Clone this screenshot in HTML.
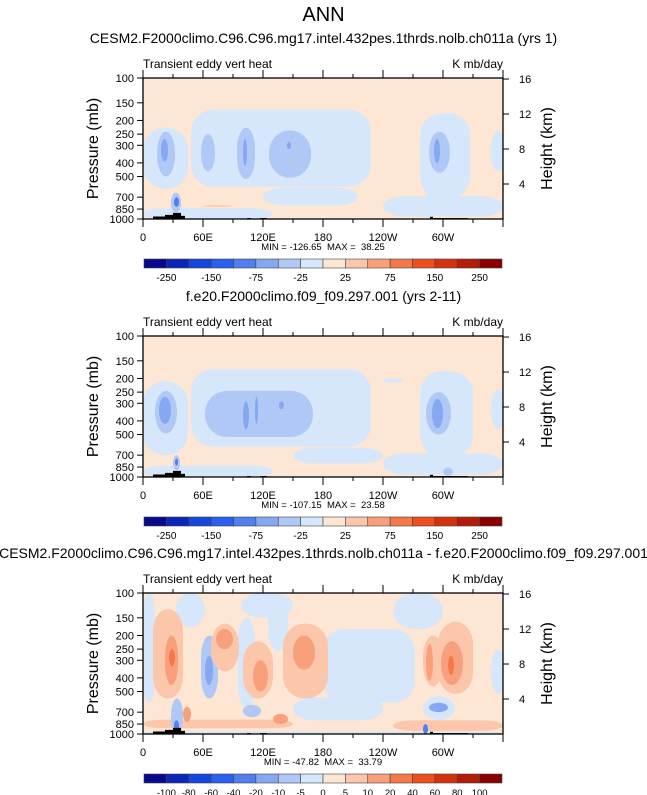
<!DOCTYPE html>
<html><head><meta charset="utf-8"><style>
body{margin:0;background:#fff;}
svg{display:block;font-family:"Liberation Sans",Arial,sans-serif;}
text{white-space:pre;}
</style></head><body>
<svg id="chart" width="647" height="795" viewBox="0 0 647 795" xmlns="http://www.w3.org/2000/svg">
<text x="323.5" y="21" font-size="20" text-anchor="middle">ANN</text>
</svg>
<script>
// ---- data ----
const colors16 = ["#08088c","#0a26b6","#1446e0","#2a60f2","#5080ee","#86a8f2","#b0c8f6","#d6e6fb","#fde6d4","#fbc6aa","#f8a07c","#f47848","#f04e1e","#d4320f","#b21c08","#8a0000"];
const labelsAbs = ["-250","","-150","","-75","","-25","","25","","75","","150","","250"];
const labelsDiff = ["-100","-80","-60","-40","-20","-10","-5","0","5","10","20","40","60","80","100"];
const pTicks = [100,150,200,250,300,400,500,700,850,1000];
const hTicks = [4,8,12,16];
const lonTicks = [0,60,120,180,240,300];
const lonLabels = ["0","60E","120E","180","120W","60W"];
const subtitles = ["CESM2.F2000climo.C96.C96.mg17.intel.432pes.1thrds.nolb.ch011a (yrs 1)","f.e20.F2000climo.f09_f09.297.001 (yrs 2-11)","CESM2.F2000climo.C96.C96.mg17.intel.432pes.1thrds.nolb.ch011a - f.e20.F2000climo.f09_f09.297.001"];
const minmax = ["MIN = -126.65  MAX =  38.25","MIN = -107.15  MAX =  23.58","MIN = -47.82  MAX =  33.79"];
// blobs: [lon0, lon1, pTop, pBottom, colorLevel]
const blobs1 = [
 [0,45,225,610,7],[48,228,168,590,7],[277,327,178,720,7],[348,362,235,460,7],
 [0,130,840,1000,7],[240,360,690,960,7],[120,215,600,800,7],[282,290,650,1000,7],
 [14,32,240,500,6],[58,72,250,460,6],[94,112,225,520,6],[126,168,235,510,6],[286,307,240,470,6],
 [18,25,270,390,5],[100,104,270,420,5],[144,148,285,320,5],[291,297,270,400,5],
 [28,38,650,900,6],[31,36,700,820,4],[60,90,800,820,9]
];
const blobs2 = [
 [0,45,210,700,7],[48,228,172,610,7],[277,330,178,720,7],[348,362,240,460,7],
 [0,130,830,1000,7],[240,360,680,960,7],[150,240,620,800,7],[282,290,650,1000,7],[240,260,200,215,7],
 [12,34,245,490,6],[62,170,245,520,6],[283,308,250,500,6],
 [16,28,270,420,5],[100,106,290,460,5],[112,115,270,420,5],[136,141,290,330,5],[289,300,280,450,5],
 [30,37,700,900,6],[32,35,740,830,4],[300,310,860,980,6]
];
const blobs3 = [
 [0,12,100,600,7],[33,62,100,175,7],[98,150,100,150,7],[250,300,100,180,7],[95,112,150,650,7],
 [125,145,110,260,7],[180,272,180,600,7],[150,240,550,800,7],[280,312,540,800,7],[348,362,250,520,7],[0,360,960,1000,7],
 [10,40,130,560,9],[22,35,200,450,10],[26,32,250,330,11],
 [58,75,200,560,6],[62,70,280,450,5],
 [68,96,165,360,9],[73,90,180,250,10],
 [100,130,220,560,9],[110,125,300,500,10],
 [140,185,165,560,9],[150,172,200,350,10],
 [280,300,200,460,9],[283,290,230,420,10],[295,330,160,520,9],[298,320,220,450,10],[305,311,280,380,11],
 [0,150,790,910,9],[250,360,800,950,9],[40,48,640,820,10],[130,145,720,850,10],
 [286,305,600,700,5],[100,118,620,760,6],[28,40,560,1000,6],[31,36,800,960,4],[280,285,850,1000,4]
];
const topo = [[10,22,960],[22,30,935],[30,38,905],[38,42,950],[104,108,985],[117,124,985],[287,290,965],[290,325,985]];
const panelTops = [78,336,593];
const blobSets = [blobs1,blobs2,blobs3];

// ---- layout ----
const svg = document.getElementById('chart');
const NS = "http://www.w3.org/2000/svg";
const X0 = 143, X1 = 503, PH = 141;
function mk(tag, attrs, parent){const e=document.createElementNS(NS,tag);for(const k in attrs)e.setAttribute(k,attrs[k]);(parent||svg).appendChild(e);return e;}
function xScale(lon){return X0 + (lon/360)*(X1-X0);}
function yScale(p, top){return top + PH*Math.log10(p/100);}
function hToP(h){return 1000*Math.exp(-h/7);}

for(let k=0;k<3;k++){
  const top = panelTops[k];
  const g = mk('g',{});
  
  
  const st = mk('text',{x:323.5,y:top-35,'font-size':14,'text-anchor':'middle'},g);
  st.textContent = subtitles[k];
  
  
  const l = mk('text',{x:X0,y:top-10,'font-size':12},g); l.textContent='Transient eddy vert heat';
  
  
  const u = mk('text',{x:X1,y:top-10,'font-size':12,'text-anchor':'end'},g); u.textContent='K mb/day';
  
  
  const cp = mk('clipPath',{id:'clip'+k},g);
  mk('rect',{x:X0,y:top,width:X1-X0,height:PH},cp);
  const field = mk('g',{'clip-path':'url(#clip'+k+')'},g);
  
  
  const bg = mk('rect',{x:X0,y:top,width:X1-X0,height:PH,fill:colors16[8]},field);
  
  
  for(const b of blobSets[k]){
    const x=xScale(b[0]), w=xScale(b[1])-x, y=yScale(b[2],top), h=yScale(b[3],top)-y;
    const r = mk('rect',{x:x,y:y,width:w,height:h,rx:Math.min(w/2,22),ry:Math.min(h/2,22),fill:colors16[b[4]]},field);
    
    
  }
  for(const t of topo){
    const x=xScale(t[0]), w=xScale(t[1])-x, y=yScale(t[2],top);
    const r = mk('rect',{x:x,y:y,width:w,height:top+PH-y,fill:'#000'},field);
    
    
  }
  const frame = mk('rect',{x:X0,y:top,width:X1-X0,height:PH,fill:'none',stroke:'#000','stroke-width':1.3},g);
  
  
  for(let lon=0;lon<=360;lon+=30){
    const x=xScale(lon), len = lon%60==0?8:4;
    mk('line',{x1:x,x2:x,y1:top,y2:top-len,stroke:'#000','stroke-width':1},g);
    mk('line',{x1:x,x2:x,y1:top+PH,y2:top+PH+len,stroke:'#000','stroke-width':1},g);
  }
  lonTicks.forEach((lon,i)=>{
    const t=mk('text',{x:xScale(lon),y:top+PH+22,'font-size':11,'text-anchor':'middle'},g);
    t.textContent=lonLabels[i];
    
    
  });
  for(const p of pTicks){
    const y=yScale(p,top);
    mk('line',{x1:X0,x2:X0-6,y1:y,y2:y,stroke:'#000'},g);
    const t=mk('text',{x:X0-9,y:y+4,'font-size':11,'text-anchor':'end'},g);
    t.textContent=p;
    
    
  }
  for(const h of hTicks){
    const y=yScale(hToP(h),top);
    mk('line',{x1:X1,x2:X1+6,y1:y,y2:y,stroke:'#000'},g);
    const t=mk('text',{x:X1+16,y:y+4,'font-size':11},g);
    t.textContent=h;
    
    
  }
  const ya=mk('text',{x:0,y:0,'font-size':16,'text-anchor':'middle',transform:'translate(98,'+(top+PH/2)+') rotate(-90)'},g);
  ya.textContent='Pressure (mb)';
  
  
  const ya2=mk('text',{x:0,y:0,'font-size':16,'text-anchor':'middle',transform:'translate(552,'+(top+PH/2)+') rotate(-90)'},g);
  ya2.textContent='Height (km)';
  
  
  const mm=mk('text',{x:323,y:top+PH+31,'font-size':9.5,'text-anchor':'middle'},g);
  mm.textContent=minmax[k];
  
  
  const cy=top+181, cx0=144, cw=(502-144)/16;
  const cb=mk('g',{},g);
  
  
  for(let i=0;i<16;i++){
    const r=mk('rect',{x:cx0+i*cw,y:cy,width:cw,height:9,fill:colors16[i],stroke:'#444','stroke-width':0.6},cb);
    
    
  }
  const labs = k==2?labelsDiff:labelsAbs;
  labs.forEach((s,i)=>{
    if(!s) return;
    const t=mk('text',{x:cx0+(i+1)*cw,y:cy+22,'font-size':k==2?9.5:10,'text-anchor':'middle'},cb);
    t.textContent=s;
    
    
  });
}
</script>
</body></html>
